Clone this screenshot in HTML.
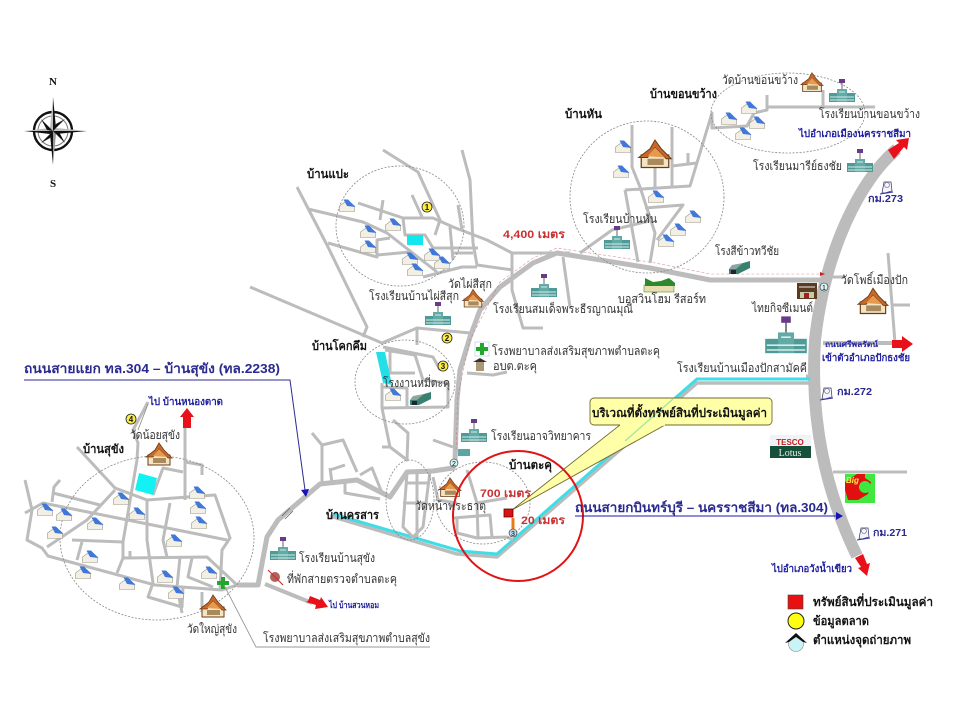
<!DOCTYPE html>
<html><head><meta charset="utf-8"><style>
html,body{margin:0;padding:0;background:#fff}
svg{display:block;filter:blur(.3px)}
text{font-family:"Liberation Sans","Noto Sans CJK SC",sans-serif}
.g{font-size:12px;fill:#333}
.b{font-size:12px;font-weight:bold;fill:#111}
.u{font-size:10px;font-weight:bold;fill:#2222a0}
.r{font-size:11px;font-weight:bold;fill:#c83232}
.k{font-size:10px;font-weight:bold;fill:#2a2a90}
.rd{fill:none;stroke:#bcbcbc;stroke-width:3;stroke-linejoin:round}
.c{fill:none;stroke:#888;stroke-width:.8;stroke-dasharray:2 1.5}
</style></head><body>
<svg width="960" height="720" viewBox="0 0 960 720" xmlns="http://www.w3.org/2000/svg">
<defs>
<g id="h"><path d="M-7.5,5.5V0L0,-5.5L7.5,0V5.5Z" fill="#f4efe4" stroke="#998" stroke-width=".6"/><path d="M-3.5,-6.5L1,-6.5L8.5,1L0,0Z" fill="#3f78d8"/></g>
<g id="t"><path d="M-11,10V0H11V10Z" fill="#f3e4c4" stroke="#6b3b14"/><path d="M-13,2L-4,-5L0,-12L5,-5L13,3L9,3L0,-6L-6,2Z" fill="#c8682a" stroke="#6b3b14" stroke-width=".8"/><path d="M-6,1L0,-6L8,2Z" fill="#e89a4c"/><path d="M-6,3H7V8H-6Z" fill="#a98a5c"/></g>
<g id="s"><rect x="-13" y="-2" width="8" height="9" fill="#4d9a96"/><rect x="5" y="-2" width="8" height="9" fill="#4d9a96"/><rect x="-5" y="-6" width="10" height="13" fill="#62aaa6"/><path d="M0,-6V-13" stroke="#666"/><rect x="-3" y="-16" width="6" height="4" fill="#6a3a8a"/><path d="M-12,2H12M-12,5H12M-3,-3H3" stroke="#d8ece8"/></g>
<g id="f"><path d="M-10,1L4,-5L11,-7V0L-1,6H-10Z" fill="#3a8070"/><path d="M-10,1L-7,-3L4,-5L-3,1Z" fill="#8aa8a0"/><rect x="-8" y="2" width="5" height="4" fill="#223"/></g>
<g id="m"><path d="M-5,6L-3,-5H4L5,4L-2,6Z" fill="#f4f4fa" stroke="#336" stroke-width=".7"/><path d="M-7,7L6,5" stroke="#33a" stroke-width="1"/><circle cx="0" cy="-2" r="2.5" fill="none" stroke="#667" stroke-width=".6"/></g>
<g id="cr"><rect x="-2" y="-6" width="4" height="12" fill="#1fa82c"/><rect x="-6" y="-2" width="12" height="4" fill="#1fa82c"/></g>
</defs>
<rect width="960" height="720" fill="#fff"/>

<!-- big highway -->
<path d="M897,149C860,180 825,250 815,340C810,420 825,490 857,556" fill="none" stroke="#bcbcbc" stroke-width="12"/>
<!-- route 304 -->
<path d="M330,516L457,554L497,557L697,383H810" fill="none" stroke="#bcbcbc" stroke-width="3.5"/>
<path d="M333,514L460,551L497,554L697,379H810" fill="none" stroke="#3fdde6" stroke-width="3"/>

<!-- main roads thick -->
<path d="M237,585H258L267,537L278,520L320,484L357,480L390,497L407,472L433,471L453,468L455,460L457,400L460,370L470,337L480,310L500,287L533,263L557,253L650,268L710,280H827" fill="none" stroke="#bcbcbc" stroke-width="5" stroke-linejoin="round"/>
<path d="M265,584L312,603" fill="none" stroke="#bcbcbc" stroke-width="4"/>
<path d="M456,450L458,395L470,340L500,282L533,258L557,248L650,262L710,274H825" fill="none" stroke="#c87070" stroke-width=".6" stroke-dasharray="3 2" opacity=".75"/>
<path d="M825,274l-5,-2v4z" fill="#d02020"/>

<g class="rd">
<!-- Sukhang -->
<path d="M25,480L32,510L27,540L42,548L48,556L155,585L222,590L240,584"/>
<path d="M25,513L43,503L227,540"/>
<path d="M60,480L54,487L52,502M53,493L100,505"/>
<path d="M77,447L115,488L147,500L215,495L230,538L222,550L220,590"/>
<path d="M47,547L87,520L115,490"/>
<path d="M72,540L123,542L137,460L138,443L133,430L148,402"/>
<path d="M82,542L77,560M123,542V558L117,573M123,558L207,557L237,585"/>
<path d="M147,500V540L153,583L148,597L182,607L183,587"/>
<path d="M170,503L163,540L167,557M180,557L177,587L182,613"/>
<path d="M192,558L188,577L213,587"/>
<path d="M185,500V428M153,495L163,468L183,472M185,462L202,465V475M202,592V607M130,551V557"/>
<!-- left of Krasan -->
<path d="M312,433L322,445V483M322,445L343,440L357,472M330,470L345,465M330,468L332,483M345,480V493L380,499M360,475L372,468L382,493"/>
<path d="M407,472H430M407,473L403,527L413,537L423,527L428,487L430,472M405,483H430M403,503H428M417,472V537"/>
<path d="M433,477L438,500L457,503M467,470L477,503L478,537M453,518L490,515L492,537M477,503L507,498M457,518V533L477,538L507,537L513,540"/>
<!-- Khok Khem -->
<path d="M383,347L433,357L440,370M385,350L415,355L423,380L448,383V407L382,408L390,447L382,447M390,350V373H415M382,383V408M382,387L407,388V407M393,420L408,433L407,460L390,447M467,373L493,375L507,372M433,440L453,447"/>
<!-- Pae -->
<path d="M297,187L328,247L367,327L363,337M308,209L363,222L387,233L437,272M358,203L403,218H433L453,227L487,240L512,253L570,253"/>
<path d="M383,200L380,220M403,218L405,235H425L433,248H478M328,243L377,257V240L390,238M377,255L410,252"/>
<path d="M383,150L418,172L440,220L435,235M412,195L422,217M462,150L470,180L473,243L477,265L513,270"/>
<path d="M450,227L453,260M458,205L462,230M453,253H473M423,277L462,267H477"/>
<path d="M512,253V290L523,328H543M563,257L570,307"/>
<path d="M250,287L382,343L417,328L470,333"/>
<path d="M417,328V345"/>
<!-- Hin -->
<path d="M632,125V167L640,187L655,233L650,263M625,190L690,186L712,113V128L747,126L754,113L767,110V95"/>
<path d="M625,190L638,262M655,165V187M672,127V186M672,166L697,163M688,153V165"/>
<path d="M645,208L683,205L657,240M580,253L612,230L653,220M767,107H875M823,90V107"/>
<path d="M833,472H907M888,253L895,343M893,305H910M828,277H845M806,376L820,376"/>
</g>
<path d="M823,343H895" stroke="#bcbcbc" stroke-width="4"/>

<!-- circles -->
<ellipse class="c" cx="400" cy="226" rx="64" ry="60"/>
<ellipse class="c" cx="647" cy="197" rx="77" ry="76"/>
<ellipse class="c" cx="788" cy="113" rx="77" ry="40"/>
<ellipse class="c" cx="157" cy="538" rx="97" ry="82"/>
<ellipse class="c" cx="405" cy="382" rx="50" ry="42"/>
<ellipse class="c" cx="410" cy="500" rx="24" ry="40"/>
<ellipse class="c" cx="483" cy="503" rx="47" ry="41"/>

<!-- pools -->
<path d="M139,473L157,478L153,495L135,490Z" fill="#12f2f4"/>
<rect x="407" y="235" width="16" height="10" fill="#12e6ee"/>
<path d="M376,352H385L392,385L383,383Z" fill="#22dfe8"/>

<!-- houses -->
<use href="#h" x="45" y="510"/><use href="#h" x="64" y="515"/><use href="#h" x="55" y="533"/><use href="#h" x="121" y="499"/><use href="#h" x="95" y="524"/><use href="#h" x="137" y="514"/><use href="#h" x="197" y="493"/><use href="#h" x="198" y="508"/><use href="#h" x="199" y="523"/><use href="#h" x="174" y="541"/><use href="#h" x="90" y="557"/><use href="#h" x="83" y="573"/><use href="#h" x="127" y="584"/><use href="#h" x="165" y="577"/><use href="#h" x="176" y="593"/><use href="#h" x="209" y="573"/>
<use href="#h" x="347" y="206"/><use href="#h" x="393" y="225"/><use href="#h" x="368" y="232"/><use href="#h" x="368" y="247"/><use href="#h" x="410" y="259"/><use href="#h" x="432" y="255"/><use href="#h" x="442" y="263"/><use href="#h" x="415" y="270"/><use href="#h" x="393" y="395"/>
<use href="#h" x="623" y="147"/><use href="#h" x="621" y="172"/><use href="#h" x="656" y="197"/><use href="#h" x="693" y="217"/><use href="#h" x="678" y="230"/><use href="#h" x="666" y="241"/>
<use href="#h" x="749" y="108"/><use href="#h" x="729" y="119"/><use href="#h" x="757" y="123"/><use href="#h" x="743" y="134"/>

<!-- temples -->
<use href="#t" x="159" y="455"/><use href="#t" x="213" y="607"/>
<use href="#t" transform="translate(655,155) scale(1.25)"/>
<use href="#t" transform="translate(812,83) scale(.85)"/>
<use href="#t" transform="translate(873,302) scale(1.15)"/>
<use href="#t" transform="translate(473,299) scale(.8)"/>
<use href="#t" transform="translate(450,488) scale(.85)"/>

<!-- schools -->
<use href="#s" x="283" y="553"/><use href="#s" x="438" y="318"/><use href="#s" x="544" y="290"/><use href="#s" x="617" y="242"/><use href="#s" x="842" y="95"/><use href="#s" x="860" y="165"/><use href="#s" x="474" y="435"/>
<use href="#s" transform="translate(786,342) scale(1.6)"/>
<rect x="458" y="449" width="12" height="7" fill="#5aa6a2"/>

<use href="#f" x="420" y="399"/><use href="#f" x="739" y="268"/>

<!-- resort -->
<rect x="644" y="285" width="30" height="7" fill="#e8ddb0" stroke="#5a8a30" stroke-width=".6"/>
<path d="M645,278l8,4l8,-1l8,-3l6,5v3h-30z" fill="#2c8a2c"/>
<!-- thai kit cement -->
<rect x="797" y="283" width="20" height="16" fill="#5a3a20"/><rect x="800" y="292" width="14" height="6" fill="#c8c8a8"/><rect x="804" y="293" width="5" height="5" fill="#a02020"/><path d="M799,287H815" stroke="#eee"/>
<!-- cross + OBT + checkpoint -->
<rect x="475" y="342" width="14" height="14" fill="#fff" stroke="#cde"/>
<use href="#cr" x="482" y="349"/><use href="#cr" x="223" y="583"/>
<path d="M473,362L480,358L487,362Z" fill="#333"/><rect x="476" y="362" width="8" height="9" fill="#a89878"/>
<circle cx="275" cy="577" r="5" fill="#b0625c"/><path d="M268,570L283,585" stroke="#c83030" stroke-width="1.2"/>

<!-- km markers -->
<use href="#m" x="887" y="187"/><use href="#m" x="827" y="393"/><use href="#m" x="864" y="533"/>

<!-- callout -->
<path d="M594,398H768a4,4 0 0 1 4,4V421a4,4 0 0 1 -4,4H665L512,510L620,425H594a4,4 0 0 1 -4,-4V402a4,4 0 0 1 4,-4Z" fill="#ffffa8" stroke="#706a30" stroke-width=".9"/>
<path d="M620,425H665" stroke="#ffffa8" stroke-width="1.4"/>
<path d="M673,399L625,441" stroke="#9fe89f" stroke-width="1.4"/>

<!-- red circle -->
<circle cx="518" cy="516" r="65" fill="none" stroke="#e01414" stroke-width="2"/>
<path d="M513,518V530" stroke="#e87a18" stroke-width="3"/>
<rect x="504" y="509" width="9" height="8" fill="#d81414" stroke="#600" stroke-width=".8"/>

<!-- red arrows -->
<path d="M187,408L194,417H191V428H183V417H180Z" fill="#e8101a"/>
<path d="M308,601L310,596L320,600L321,597L328,607L315,609L316,605L306,602Z" fill="#e8101a"/>
<path d="M888,150L899,143L896,140L909,138L907,150L904,147L894,159Z" fill="#e8101a"/>
<path d="M892,340H902V336L913,344L902,352V348H892Z" fill="#e8101a"/>
<path d="M855,558L863,554L867,564L870,563L867,576L858,568L861,567Z" fill="#e8101a"/>

<!-- blue lines -->
<path d="M24,380H290L305,490" fill="none" stroke="#2c2c90" stroke-width="1"/>
<path d="M301,490L309,489L306,497Z" fill="#1414b8"/>
<path d="M575,516H836" stroke="#1c1ca8" stroke-width="1"/>
<path d="M836,512L843,516L836,520Z" fill="#1414b8"/>
<path d="M138,430L148,404" stroke="#888" stroke-width=".8"/>
<path d="M224,585L256,647H430" fill="none" stroke="#999" stroke-width=".9"/>
<path d="M282,516L290,508M285,519L293,511" stroke="#666" stroke-width=".8"/>

<!-- Tesco / Big C -->
<rect x="770" y="435" width="41" height="11" fill="#f2f2f6"/>
<text x="790" y="445" text-anchor="middle" style="font-size:8px;font-weight:bold;fill:#c02020">TESCO</text>
<rect x="770" y="446" width="41" height="12" fill="#14503a"/>
<text x="790" y="456" text-anchor="middle" style="font-size:10px;font-family:'Liberation Serif',serif;fill:#e8f0e8">Lotus</text>
<rect x="845" y="474" width="30" height="29" fill="#3ee83e"/>
<path d="M845,482L857,474H865V478L871,482L868,494L858,500H848L845,490Z" fill="#e01010"/>
<circle cx="865" cy="487" r="6" fill="#3ee83e"/>
<text x="846" y="483" style="font-size:8px;font-weight:bold;font-style:italic;fill:#f8f040">Big</text>

<!-- yellow markers -->
<g fill="#ffee44" stroke="#222" stroke-width=".8"><circle cx="427" cy="207" r="5"/><circle cx="447" cy="338" r="5"/><circle cx="443" cy="366" r="5"/><circle cx="131" cy="419" r="5"/></g>
<g style="font-size:8px;font-weight:bold" text-anchor="middle" fill="#111"><text x="427" y="210">1</text><text x="447" y="341">2</text><text x="443" y="369">3</text><text x="131" y="422">4</text></g>

<!-- photo markers -->
<circle cx="824" cy="287" r="4" fill="#d8f6f6" stroke="#222" stroke-width=".6"/><text x="824" y="290" text-anchor="middle" style="font-size:7px">1</text>
<circle cx="454" cy="463" r="4" fill="#d8f6f6" stroke="#222" stroke-width=".6"/><text x="454" y="466" text-anchor="middle" style="font-size:7px">2</text>
<circle cx="513" cy="533" r="4" fill="#bcd8e8" stroke="#222" stroke-width=".6"/><text x="513" y="536" text-anchor="middle" style="font-size:7px">3</text>

<!-- compass -->
<circle cx="53" cy="131" r="19" fill="#fff" stroke="#111" stroke-width="2.4"/>
<circle cx="53" cy="131" r="15" fill="none" stroke="#777" stroke-width="1"/>
<g fill="#111">
<path d="M53,97L56,128L53,131Z"/><path d="M53,97L50,128L53,131Z" fill="#bbb"/>
<path d="M53,165L50,134L53,131Z"/><path d="M53,165L56,134L53,131Z" fill="#999"/>
<path d="M24,131L50,128L53,131Z" fill="#bbb"/><path d="M24,131L50,134L53,131Z"/>
<path d="M87,131L56,134L53,131Z"/><path d="M87,131L56,128L53,131Z" fill="#bbb"/>
<path d="M41,119L50,128L53,131L47,130Z"/><path d="M65,119L56,128L53,131L56,124Z"/>
<path d="M41,143L50,134L53,131L50,138Z"/><path d="M65,143L56,134L53,131L59,132Z"/>
</g>
<text x="53" y="85" text-anchor="middle" style="font:bold 11px 'Liberation Serif',serif;fill:#111">N</text>
<text x="53" y="187" text-anchor="middle" style="font:bold 11px 'Liberation Serif',serif;fill:#111">S</text>

<!-- legend -->
<rect x="788" y="595" width="15" height="14" fill="#e81010" stroke="#444" stroke-width=".6"/>
<circle cx="796" cy="621" r="8" fill="#ffff10" stroke="#222"/>
<circle cx="796" cy="644" r="7.5" fill="#c8f4f6" stroke="#888" stroke-width=".6"/>
<path d="M785,643L796,633L807,643L803,642L796,637L789,642Z" fill="#111"/>

<!-- bold black labels -->
<g class="b">
<text x="307" y="178" textLength="42" lengthAdjust="spacingAndGlyphs">บ้านแปะ</text>
<text x="565" y="118" textLength="37" lengthAdjust="spacingAndGlyphs">บ้านหัน</text>
<text x="650" y="98" textLength="67" lengthAdjust="spacingAndGlyphs">บ้านขอนขว้าง</text>
<text x="312" y="350" textLength="55" lengthAdjust="spacingAndGlyphs">บ้านโคกคึม</text>
<text x="83" y="453" textLength="41" lengthAdjust="spacingAndGlyphs">บ้านสุขัง</text>
<text x="509" y="469" textLength="43" lengthAdjust="spacingAndGlyphs">บ้านตะคุ</text>
<text x="326" y="519" textLength="53" lengthAdjust="spacingAndGlyphs">บ้านครสาร</text>
<text x="592" y="417" textLength="175" lengthAdjust="spacingAndGlyphs">บริเวณที่ตั้งทรัพย์สินที่ประเมินมูลค่า</text>
<text x="813" y="606" textLength="120" lengthAdjust="spacingAndGlyphs">ทรัพย์สินที่ประเมินมูลค่า</text>
<text x="813" y="625" textLength="56" lengthAdjust="spacingAndGlyphs">ข้อมูลตลาด</text>
<text x="813" y="644" textLength="98" lengthAdjust="spacingAndGlyphs">ตำแหน่งจุดถ่ายภาพ</text>
</g>

<!-- grey labels -->
<g class="g">
<text x="369" y="300" textLength="90" lengthAdjust="spacingAndGlyphs">โรงเรียนบ้านไผ่สีสุก</text>
<text x="448" y="288" textLength="44" lengthAdjust="spacingAndGlyphs">วัดไผ่สีสุก</text>
<text x="493" y="313" textLength="140" lengthAdjust="spacingAndGlyphs">โรงเรียนสมเด็จพระธีรญาณมุณี</text>
<text x="492" y="355" textLength="168" lengthAdjust="spacingAndGlyphs">โรงพยาบาลส่งเสริมสุขภาพตำบลตะคุ</text>
<text x="493" y="370" textLength="44" lengthAdjust="spacingAndGlyphs">อบต.ตะคุ</text>
<text x="383" y="387" textLength="67" lengthAdjust="spacingAndGlyphs">โรงงานหมี่ตะคุ</text>
<text x="491" y="440" textLength="100" lengthAdjust="spacingAndGlyphs">โรงเรียนอาจวิทยาคาร</text>
<text x="415" y="510" textLength="71" lengthAdjust="spacingAndGlyphs">วัดหน้าพระธาตุ</text>
<text x="299" y="562" textLength="76" lengthAdjust="spacingAndGlyphs">โรงเรียนบ้านสุขัง</text>
<text x="287" y="583" textLength="110" lengthAdjust="spacingAndGlyphs">ที่พักสายตรวจตำบลตะคุ</text>
<text x="263" y="642" textLength="167" lengthAdjust="spacingAndGlyphs">โรงพยาบาลส่งเสริมสุขภาพตำบลสุขัง</text>
<text x="130" y="439" textLength="50" lengthAdjust="spacingAndGlyphs">วัดน้อยสุขัง</text>
<text x="187" y="633" textLength="50" lengthAdjust="spacingAndGlyphs">วัดใหญ่สุขัง</text>
<text x="722" y="84" textLength="76" lengthAdjust="spacingAndGlyphs">วัดบ้านขอนขว้าง</text>
<text x="819" y="118" textLength="101" lengthAdjust="spacingAndGlyphs">โรงเรียนบ้านขอนขว้าง</text>
<text x="753" y="170" textLength="89" lengthAdjust="spacingAndGlyphs">โรงเรียนมารีย์ธงชัย</text>
<text x="583" y="223" textLength="74" lengthAdjust="spacingAndGlyphs">โรงเรียนบ้านหัน</text>
<text x="715" y="255" textLength="64" lengthAdjust="spacingAndGlyphs">โรงสีข้าวทวีชัย</text>
<text x="841" y="284" textLength="67" lengthAdjust="spacingAndGlyphs">วัดโพธิ์เมืองปัก</text>
<text x="618" y="303" textLength="88" lengthAdjust="spacingAndGlyphs">บอสวินโฮม รีสอร์ท</text>
<text x="752" y="312" textLength="61" lengthAdjust="spacingAndGlyphs">ไทยกิจซีเมนต์</text>
<text x="677" y="372" textLength="130" lengthAdjust="spacingAndGlyphs">โรงเรียนบ้านเมืองปักสามัคคี</text>
</g>

<!-- blue labels -->
<g class="u">
<text x="149" y="405" textLength="74" lengthAdjust="spacingAndGlyphs">ไป บ้านหนองตาด</text>
<text x="329" y="608" textLength="50" lengthAdjust="spacingAndGlyphs" style="font-size:9px">ไป บ้านสวนหอม</text>
<text x="799" y="137" textLength="112" lengthAdjust="spacingAndGlyphs">ไปอำเภอเมืองนครราชสีมา</text>
<text x="825" y="347" textLength="53" lengthAdjust="spacingAndGlyphs" style="font-size:8px">ถนนศรีพลรัตน์</text>
<text x="822" y="361" textLength="88" lengthAdjust="spacingAndGlyphs">เข้าตัวอำเภอปักธงชัย</text>
<text x="772" y="572" textLength="80" lengthAdjust="spacingAndGlyphs">ไปอำเภอวังน้ำเขียว</text>
</g>
<g class="k">
<text x="868" y="202" textLength="35" lengthAdjust="spacingAndGlyphs">กม.273</text>
<text x="837" y="395" textLength="35" lengthAdjust="spacingAndGlyphs">กม.272</text>
<text x="873" y="536" textLength="34" lengthAdjust="spacingAndGlyphs">กม.271</text>
</g>
<text x="24" y="373" textLength="256" lengthAdjust="spacingAndGlyphs" style="font-size:13px;font-weight:bold;fill:#2a2a90">ถนนสายแยก ทล.304 – บ้านสุขัง (ทล.2238)</text>
<text x="575" y="512" textLength="253" lengthAdjust="spacingAndGlyphs" style="font-size:13px;font-weight:bold;fill:#2a2a90">ถนนสายกบินทร์บุรี – นครราชสีมา (ทล.304)</text>

<!-- distances -->
<g class="r">
<text x="503" y="238" textLength="62" lengthAdjust="spacingAndGlyphs">4,400 เมตร</text>
<text x="480" y="497" textLength="51" lengthAdjust="spacingAndGlyphs">700 เมตร</text>
<text x="521" y="524" textLength="44" lengthAdjust="spacingAndGlyphs">20 เมตร</text>
</g>
</svg>
</body></html>
